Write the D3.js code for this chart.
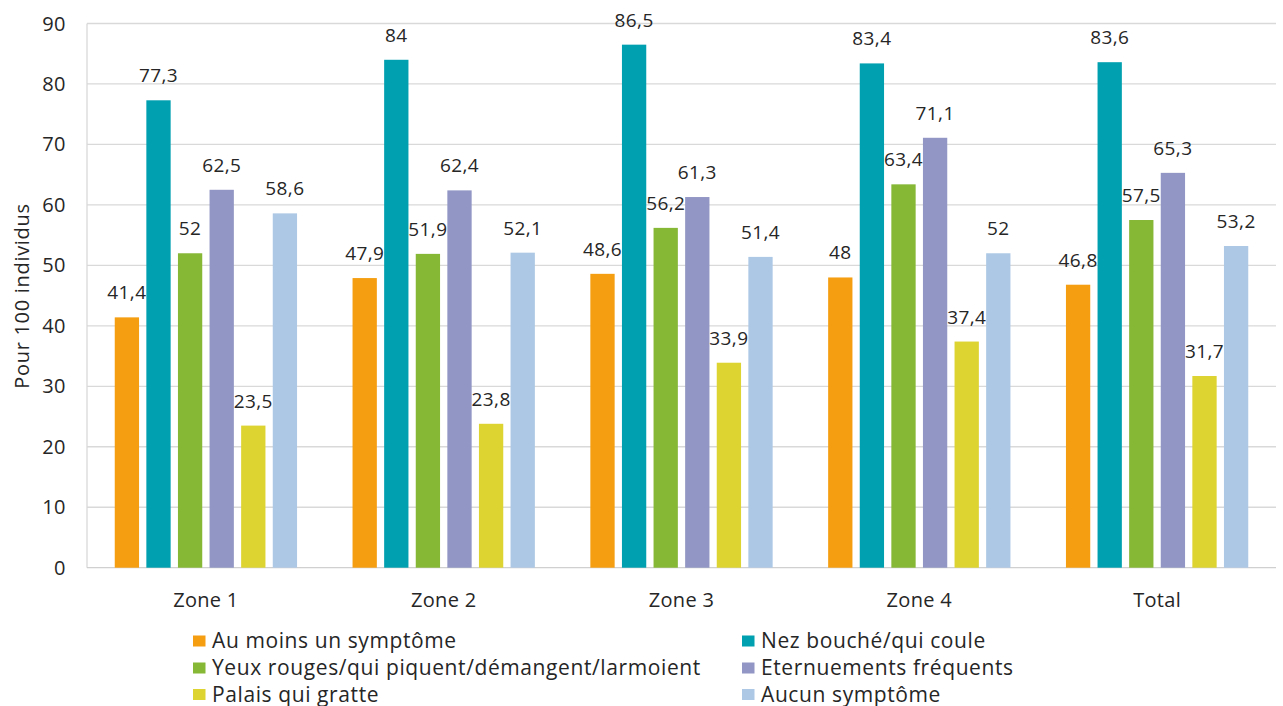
<!DOCTYPE html>
<html><head><meta charset="utf-8">
<script src="https://cdn.jsdelivr.net/npm/d3@7"></script>
<style>
body{margin:0;background:#fff;}
text{font-family:"Open Sans",sans-serif;fill:#262626;}
</style></head>
<body><svg id="c" width="1283" height="706"></svg>
<script>
const categories = ["Zone 1","Zone 2","Zone 3","Zone 4","Total"];
const seriesNames = ["Au moins un symptôme","Nez bouché/qui coule","Yeux rouges/qui piquent/démangent/larmoient","Eternuements fréquents","Palais qui gratte","Aucun symptôme"];
const seriesColors = ["#F59E12","#00A0B0","#86B735","#9196C4","#DDD331","#ADC8E5"];
const auMoins = [41.4,47.9,48.6,48,46.8];
const nez = [77.3,84,86.5,83.4,83.6];
const yeux = [52,51.9,56.2,63.4,57.5];
const eternuements = [62.5,62.4,61.3,71.1,65.3];
const palais = [23.5,23.8,33.9,37.4,31.7];
const aucun = [58.6,52.1,51.4,52,53.2];
const seriesValues = [auMoins,nez,yeux,eternuements,palais,aucun];
const yTicks = [0,10,20,30,40,50,60,70,80,90];

const svg = d3.select("#c");
const L=87,R=1276,T=23.5,B=567.7;
const x0 = d3.scaleBand().domain(categories).range([L,R]).padding(0);
const x1 = d3.scaleBand().domain(d3.range(6)).range([0,x0.bandwidth()]).paddingInner(0.231).paddingOuter(0.878);
const y = d3.scaleLinear().domain([0,90]).range([B,T]);

// grid
svg.append("g").selectAll("line").data(yTicks.filter(d=>d>0)).join("line")
 .attr("x1",L).attr("x2",R).attr("y1",d=>y(d)).attr("y2",d=>y(d))
 .attr("stroke","#d9d9d9").attr("stroke-width",1.3);
// axes lines
svg.append("line").attr("x1",L).attr("x2",L).attr("y1",T).attr("y2",B).attr("stroke","#d9d9d9").attr("stroke-width",1.3);
svg.append("line").attr("x1",L).attr("x2",R).attr("y1",B).attr("y2",B).attr("stroke","#d0d0d0").attr("stroke-width",1.3);

// y tick labels
svg.append("g").selectAll("text").data(yTicks).join("text")
 .attr("x",66).attr("y",d=>y(d)).attr("dy","0.35em").attr("text-anchor","end")
 .attr("font-size",20).attr("letter-spacing",0.5).text(d=>d);

// y title
svg.append("text").attr("transform","translate(29,296) rotate(-90)").attr("text-anchor","middle")
 .attr("font-size",20).attr("letter-spacing",0.7).text("Pour 100 individus");

// x labels
svg.append("g").selectAll("text").data(categories).join("text")
 .attr("x",d=>x0(d)+x0.bandwidth()/2).attr("y",607).attr("text-anchor","middle")
 .attr("font-size",20).attr("letter-spacing",0.3).text(d=>d);

// bars
const fmt = v => String(v).replace(".",",");
seriesValues.forEach((vals,si)=>{
  const g = svg.append("g");
  g.selectAll("rect").data(vals).join("rect")
   .attr("x",(d,i)=>x0(categories[i])+x1(si)).attr("width",x1.bandwidth())
   .attr("y",d=>y(d)).attr("height",d=>B-y(d)).attr("fill",seriesColors[si]);
  g.selectAll("text").data(vals).join("text")
   .attr("x",(d,i)=>x0(categories[i])+x1(si)+x1.bandwidth()/2)
   .attr("y",d=>y(d)-18).attr("text-anchor","middle").attr("font-size",19).attr("letter-spacing",0.4).text(fmt);
});

// legend
const legX=[193,742], legY=[648,675,701.5];
seriesNames.forEach((n,i)=>{
  const col=i%2,row=Math.floor(i/2);
  svg.append("rect").attr("x",legX[col]).attr("y",legY[row]-12.5).attr("width",12.5).attr("height",11).attr("fill",seriesColors[i]);
  svg.append("text").attr("x",legX[col]+19).attr("y",legY[row]).attr("font-size",21).attr("letter-spacing",0.6).text(n);
});
</script></body></html>
